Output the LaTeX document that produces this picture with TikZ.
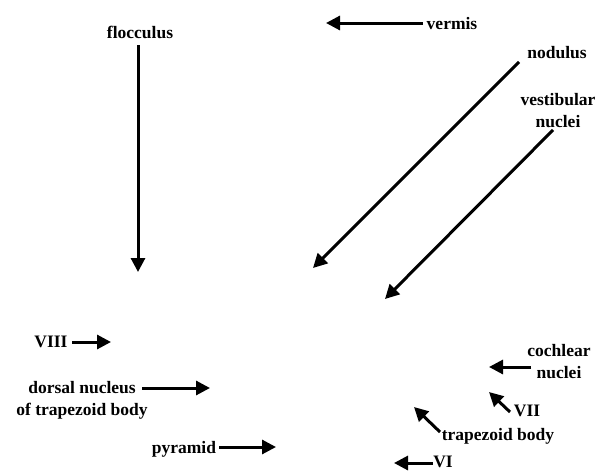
\documentclass[tikz,border=0pt]{standalone}
\usepackage{fontspec}
\setmainfont{Liberation Serif}
\usetikzlibrary{arrows.meta}
\tikzset{
  lbl/.style={anchor=base, inner sep=0pt, font=\bfseries\fontsize{17.5}{22}\selectfont, align=center},
  arr/.style={line width=3pt, -{Triangle[length=14pt,width=14pt]}},
}
\begin{document}
\begin{tikzpicture}[x=1pt,y=-1pt]
\useasboundingbox[fill=white] (0,0) rectangle (600,474);
% labels (base = baseline of the last line)
\node[lbl] (floc) at (140,38) {flocculus};
\node[lbl] (verm) at (452,29) {vermis};
\node[lbl] (nodu) at (557,58) {nodulus};
\node[lbl] (vest) at (558,127) {vestibular\\nuclei};
\node[lbl] (viii) at (51,347) {VIII};
\node[lbl] (dors) at (82,415) {dorsal nucleus\\of trapezoid body};
\node[lbl] (pyra) at (184,453) {pyramid};
\node[lbl] (coch) at (559,378) {cochlear\\nuclei};
\node[lbl] (vii) at (527,416) {VII};
\node[lbl] (trap) at (498,440) {trapezoid body};
\node[lbl] (vi) at (443,467) {VI};
% arrow ends
\coordinate (flocA) at (138,45);  \coordinate (flocB) at (138,272);
\coordinate (vermA) at (423,23);  \coordinate (vermB) at (326,23);
\coordinate (noduA) at (519,62);  \coordinate (noduB) at (313,268);
\coordinate (vestA) at (553,130); \coordinate (vestB) at (385,299);
\coordinate (viiiA) at (72,342);  \coordinate (viiiB) at (111,342);
\coordinate (dorsA) at (142,388); \coordinate (dorsB) at (210,388);
\coordinate (pyraA) at (219,447); \coordinate (pyraB) at (276,447);
\coordinate (cochA) at (531,367); \coordinate (cochB) at (489,367);
\coordinate (viiA) at (510,412);  \coordinate (viiB) at (489,392);
\coordinate (trapA) at (440,432); \coordinate (trapB) at (414,407);
\coordinate (viA) at (433,463);   \coordinate (viB) at (394,463);
% arrows
\draw[arr] (flocA) -- (flocB);
\draw[arr] (vermA) -- (vermB);
\draw[arr] (noduA) -- (noduB);
\draw[arr] (vestA) -- (vestB);
\draw[arr] (viiiA) -- (viiiB);
\draw[arr] (dorsA) -- (dorsB);
\draw[arr] (pyraA) -- (pyraB);
\draw[arr] (cochA) -- (cochB);
\draw[arr] (viiA) -- (viiB);
\draw[arr] (trapA) -- (trapB);
\draw[arr] (viA) -- (viB);
\end{tikzpicture}
\end{document}
